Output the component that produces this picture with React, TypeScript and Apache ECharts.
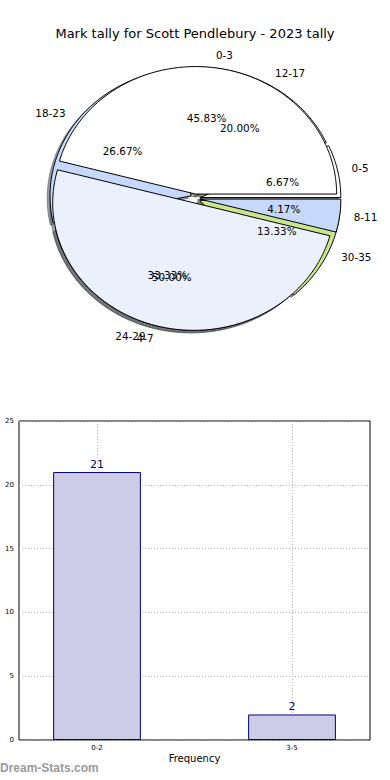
import { useEffect, useRef } from 'react';
import * as echarts from 'echarts';

const chartTitle = 'Mark tally for Scott Pendlebury - 2023 tally';

// Pie drawn on top (bins of four marks)
const upperPieLabels = ['0-3', '4-7', '8-11'];
const upperPieValues = [11, 12, 1];
// Pie drawn underneath (bins of six marks)
const lowerPieLabels = ['0-5', '12-17', '18-23', '24-29', '30-35'];
const lowerPieValues = [1, 3, 4, 5, 2];

// Bar chart
const barCategories = ['0-2', '3-5'];
const barValues = [21, 2];
const barAxisName = 'Frequency';
const watermarkText = 'Dream-Stats.com';

// Styles
const upperPieColors = ['#ffffff', '#eaf1fd', '#c6d9fd'];
const lowerPieColors = ['#ffffff', '#ffffff', '#c6d9fd', '#eaf1fd', '#c9e68d'];

const CX = 195;
const CY = 198.5;
const RX = 141;
const RY = 127.5;
const EXPLODE = 0.035;
const SHADOW = 0.02;
const FONT = '"DejaVu Sans", Verdana, sans-serif';

type Slice = { a0: number; a1: number; mid: number; frac: number; ox: number; oy: number };

function slices(values: number[]): Slice[] {
  const total = values.reduce((a, b) => a + b, 0);
  let acc = 0;
  return values.map((v) => {
    const a0 = (acc / total) * Math.PI * 2;
    acc += v;
    const a1 = (acc / total) * Math.PI * 2;
    const mid = (a0 + a1) / 2;
    return {
      a0,
      a1,
      mid,
      frac: v / total,
      ox: CX + EXPLODE * RX * Math.cos(mid),
      oy: CY - EXPLODE * RY * Math.sin(mid),
    };
  });
}

function wedgePoints(s: Slice, dx: number, dy: number): number[][] {
  const pts: number[][] = [[s.ox + dx, s.oy + dy]];
  const n = Math.max(2, Math.ceil((s.a1 - s.a0) / (Math.PI / 180)));
  for (let k = 0; k <= n; k++) {
    const a = s.a0 + ((s.a1 - s.a0) * k) / n;
    pts.push([s.ox + dx + RX * Math.cos(a), s.oy + dy - RY * Math.sin(a)]);
  }
  return pts;
}

function shade(hex: string): string {
  const r = parseInt(hex.slice(1, 3), 16);
  const g = parseInt(hex.slice(3, 5), 16);
  const b = parseInt(hex.slice(5, 7), 16);
  return `rgba(${Math.round(0.3 * r)},${Math.round(0.3 * g)},${Math.round(0.3 * b)},0.5)`;
}

function pieLayer(kind: 'shadow' | 'wedge' | 'label', values: number[], labels: string[], colors: string[], z: number) {
  const geo = slices(values);
  return {
    type: 'custom',
    coordinateSystem: 'none',
    z,
    silent: true,
    data: values.map((v, i) => ({ name: labels[i], value: v })),
    renderItem: (params: any) => {
      const i = params.dataIndex;
      const s = geo[i];
      const color = colors[i % colors.length];
      if (kind === 'shadow') {
        const c = shade(color);
        return {
          type: 'polygon',
          shape: { points: wedgePoints(s, -SHADOW * RX, SHADOW * RY) },
          style: { fill: c, stroke: c, lineWidth: 1 },
        };
      }
      if (kind === 'wedge') {
        return {
          type: 'polygon',
          shape: { points: wedgePoints(s, 0, 0) },
          style: { fill: color, stroke: '#000', lineWidth: 1 },
        };
      }
      const cs = Math.cos(s.mid);
      const sn = Math.sin(s.mid);
      return {
        type: 'group',
        children: [
          {
            type: 'text',
            x: s.ox + 1.1 * RX * cs,
            y: s.oy - 1.1 * RY * sn,
            style: {
              text: labels[i],
              fill: '#000',
              fontSize: 10.4,
              fontFamily: FONT,
              textAlign: cs > 0 ? 'left' : 'right',
              textVerticalAlign: 'middle',
            },
          },
          {
            type: 'text',
            x: s.ox + 0.6 * RX * cs,
            y: s.oy - 0.6 * RY * sn,
            style: {
              text: (s.frac * 100).toFixed(2) + '%',
              fill: '#000',
              fontSize: 10.4,
              fontFamily: FONT,
              textAlign: 'center',
              textVerticalAlign: 'middle',
            },
          },
        ],
      };
    },
  };
}

export default function App() {
  const ref = useRef<HTMLDivElement>(null);

  useEffect(() => {
    if (!ref.current) return;
    const chart = echarts.init(ref.current, null, { renderer: 'svg' });
    const grid = { show: true, left: 19, right: 20, top: 421, bottom: 40, borderColor: '#000', borderWidth: 1, backgroundColor: 'transparent' };
    const dotted = { show: true, lineStyle: { color: '#b4b4b4', type: [1, 2], width: 1 } };
    chart.setOption({
      animation: false,
      backgroundColor: '#fff',
      title: {
        text: chartTitle,
        left: 'center',
        top: 22,
        textStyle: { fontSize: 13, fontWeight: 'normal', fontFamily: FONT, color: '#000' },
      },
      grid,
      xAxis: {
        type: 'value',
        min: -0.4,
        max: 1.4,
        name: barAxisName,
        nameLocation: 'middle',
        nameGap: 13,
        nameTextStyle: { fontSize: 10, fontFamily: FONT, color: '#000' },
        axisLine: { show: false },
        axisTick: { show: false, customValues: [0, 1] },
        axisLabel: {
          customValues: [0, 1],
          formatter: (v: number) => barCategories[Math.round(v)] ?? '',
          fontSize: 7,
          fontFamily: FONT,
          color: '#000',
          margin: 4,
        },
        splitLine: dotted,
      },
      yAxis: {
        type: 'value',
        min: 0,
        max: 25,
        interval: 5,
        axisLine: { show: false },
        axisTick: { show: false },
        axisLabel: { fontSize: 7, fontFamily: FONT, color: '#000', margin: 5 },
        splitLine: dotted,
      },
      graphic: [
        {
          type: 'text',
          left: 0,
          top: 762,
          style: { text: watermarkText, fill: '#9a9a9a', fontSize: 12, fontWeight: 'bold', fontFamily: '"Liberation Sans", Arial, sans-serif' },
        },
      ],
      series: [
        pieLayer('shadow', lowerPieValues, lowerPieLabels, lowerPieColors, 1),
        pieLayer('shadow', upperPieValues, upperPieLabels, upperPieColors, 1),
        pieLayer('wedge', lowerPieValues, lowerPieLabels, lowerPieColors, 2),
        pieLayer('wedge', upperPieValues, upperPieLabels, upperPieColors, 3),
        pieLayer('label', lowerPieValues, lowerPieLabels, lowerPieColors, 4),
        pieLayer('label', upperPieValues, upperPieLabels, upperPieColors, 4),
        {
          type: 'bar',
          data: barValues.map((v, i) => [i, v]),
          barWidth: '45%',
          itemStyle: { color: '#cccce6', borderColor: '#000080', borderWidth: 1 },
          label: { show: true, position: 'top', distance: 2, color: '#000080', fontSize: 11, fontFamily: FONT },
        },
      ],
    } as any);
    return () => chart.dispose();
  }, []);

  return <div ref={ref} style={{ position: 'absolute', left: 0, top: 0, width: 390, height: 780 }} />;
}
